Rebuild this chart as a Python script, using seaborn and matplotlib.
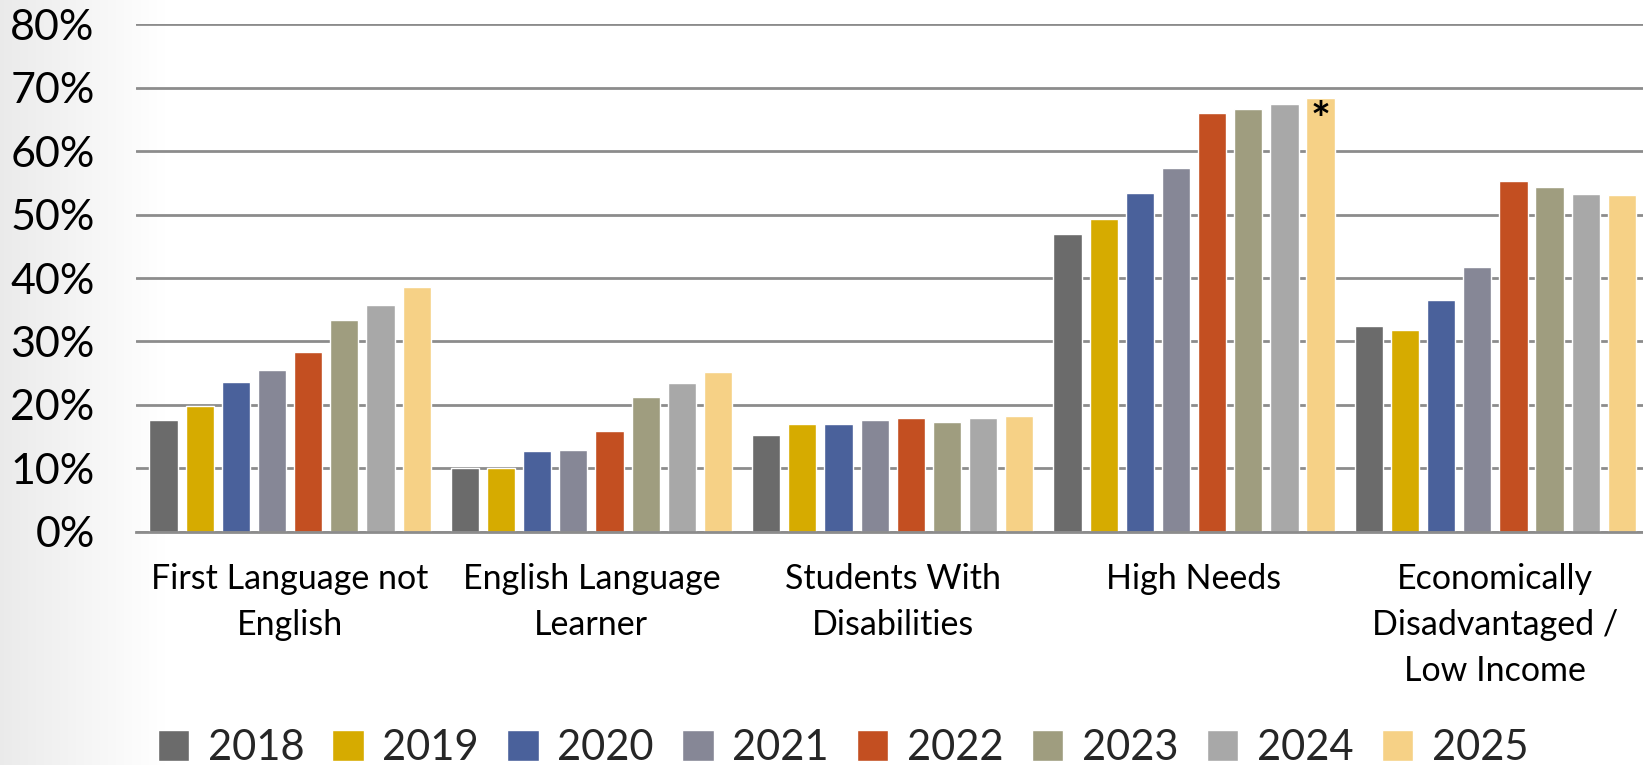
import numpy as np
import pandas as pd
import matplotlib
matplotlib.use("Agg")
import matplotlib.pyplot as plt
import seaborn as sns
from matplotlib.ticker import PercentFormatter

groups = ["First Language not\nEnglish", "English Language\nLearner", "Students With\nDisabilities",
          "High Needs", "Economically\nDisadvantaged /\nLow Income"]
years = ["2018", "2019", "2020", "2021", "2022", "2023", "2024", "2025"]
colors = ["#6b6b6b", "#d6ab00", "#4a619b", "#868796", "#c34f21", "#9f9d7f", "#a8a8a8", "#f6d186"]

v2018 = [17.6, 10.0, 15.2, 46.9, 32.5]
v2019 = [19.8, 10.1, 17.0, 49.3, 31.8]
v2020 = [23.6, 12.7, 17.05, 53.4, 36.6]
v2021 = [25.5, 12.9, 17.6, 57.4, 41.8]
v2022 = [28.4, 15.9, 17.9, 66.0, 55.2]
v2023 = [33.4, 21.3, 17.3, 66.6, 54.3]
v2024 = [35.7, 23.4, 17.9, 67.4, 53.3]
v2025 = [38.6, 25.2, 18.2, 68.4, 53.0]
series = [v2018, v2019, v2020, v2021, v2022, v2023, v2024, v2025]

rows = []
for y, vals in zip(years, series):
    for g, v in zip(groups, vals):
        rows.append({"group": g, "year": y, "value": v / 100})
df = pd.DataFrame(rows)

sns.set_theme(style="white")
plt.rcParams["font.family"] = ["Lato", "DejaVu Sans"]

fig = plt.figure(figsize=(16.43, 7.65), dpi=100)

# subtle left-edge shading of slide background
bg = fig.add_axes([0, 0, 0.10, 1], zorder=-5)
grad = np.linspace(0.92, 1.0, 256).reshape(1, -1)
bg.imshow(np.dstack([grad, grad, grad]), aspect="auto", extent=[0, 1, 0, 1])
bg.axis("off")

ax = fig.add_axes([0.083, 0.3046, 0.917, 0.664])
ax.patch.set_alpha(0)
sns.barplot(data=df, x="group", y="value", hue="year", palette=colors, saturation=1,
            width=0.96, gap=0.22, ax=ax, order=groups, hue_order=years, errorbar=None)

ax.set_ylim(0, 0.8)
ax.set_xlim(-0.51, 4.49)
ax.set_yticks(np.arange(0, 0.81, 0.1))
ax.yaxis.set_major_formatter(PercentFormatter(1.0, decimals=0))
ax.grid(axis="y", color="#8c8c8c", linewidth=2)
ax.set_axisbelow(True)
for s in ["top", "right", "left"]:
    ax.spines[s].set_visible(False)
ax.spines["bottom"].set_color("#8c8c8c")
ax.spines["bottom"].set_linewidth(2)
ax.tick_params(axis="y", labelsize=31, pad=30, length=0, labelcolor="black")
ax.tick_params(axis="x", labelsize=24.5, pad=22, length=0, labelcolor="black")
for t in ax.get_xticklabels():
    t.set_linespacing(1.55)
ax.set_xlabel("")
ax.set_ylabel("")

# asterisk on the 2025 High Needs bar
bar = ax.containers[7][3]
ax.text(bar.get_x() + bar.get_width() / 2, bar.get_height() - 0.003, "*",
        ha="center", va="top", fontsize=34, fontweight="bold", color="black")

handles, labels = ax.get_legend_handles_labels()
ax.legend_.remove()
fig.legend(handles, labels, loc="center", bbox_to_anchor=(0.513, 0.022), ncol=8,
           frameon=False, fontsize=30, handlelength=0.75, handleheight=0.75,
           handletextpad=0.45, columnspacing=0.68)

fig.savefig("out.png", dpi=100)
